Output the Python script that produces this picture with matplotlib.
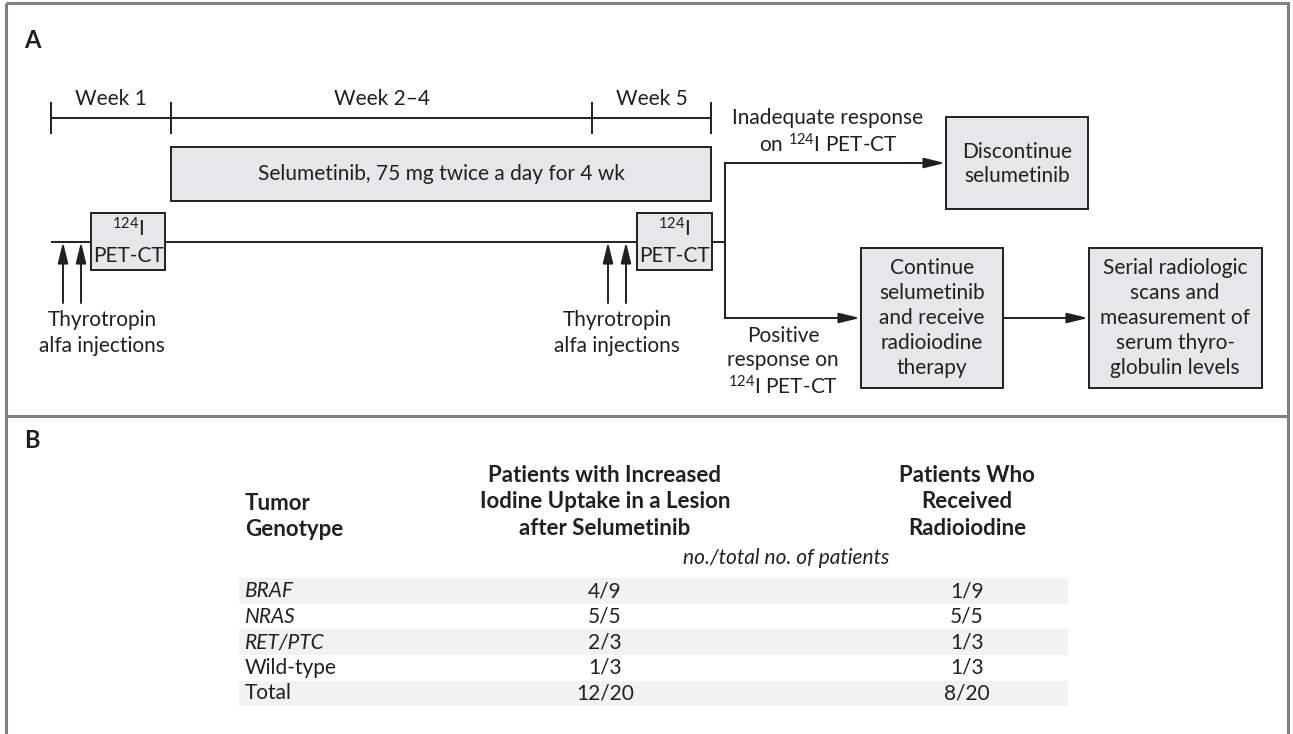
import matplotlib
matplotlib.use("Agg")
import matplotlib.pyplot as plt
from matplotlib.patches import Rectangle

plt.rcParams['font.family'] = ['Lato', 'DejaVu Sans']
plt.rcParams['mathtext.fontset'] = 'custom'
plt.rcParams['mathtext.rm'] = 'Lato'
plt.rcParams['mathtext.it'] = 'Lato:italic'

# Panel B table data
genotypes = ['BRAF', 'NRAS', 'RET/PTC', 'Wild-type', 'Total']
genotype_italic = [True, True, True, False, False]
uptake = ['4/9', '5/5', '2/3', '1/3', '12/20']
radioiodine = ['1/9', '5/5', '1/3', '1/3', '8/20']
col_headers = ['Patients with Increased\nIodine Uptake in a Lesion\nafter Selumetinib',
               'Patients Who\nReceived\nRadioiodine']

# Panel A timeline labels
week_labels = ['Week 1', 'Week 2\u20134', 'Week 5']

INK = '#231f20'
BOX = '#e6e7e8'
BAND = '#f1f2f2'
FS = 15
LW = 1.4

fig = plt.figure(figsize=(12.93, 7.34), dpi=100)
ax = fig.add_axes([0, 0, 1, 1])
ax.set_xlim(0, 1293)
ax.set_ylim(734, 0)
ax.axis('off')


def box(x0, y0, x1, y1):
    ax.add_patch(Rectangle((x0, y0), x1 - x0, y1 - y0, facecolor=BOX,
                           edgecolor=INK, lw=LW, zorder=3))


def arrow(x0, y0, x1, y1):
    ax.annotate('', xy=(x1, y1), xytext=(x0, y0),
                arrowprops=dict(arrowstyle='-|>,head_length=0.9,head_width=0.22',
                                mutation_scale=14, lw=LW, color=INK,
                                shrinkA=0, shrinkB=0), zorder=4)


def txt(x, y, s, ls=1.3, **kw):
    kw.setdefault('fontsize', FS)
    kw.setdefault('ha', 'center')
    ax.text(x, y, s, va='center', color=INK, linespacing=ls, zorder=5, **kw)


# outer frame and divider
ax.add_patch(Rectangle((6, 3), 1282, 760, facecolor='none', edgecolor='#808080',
                       lw=2.2, clip_on=False, zorder=1))
ax.plot([6, 1288], [416, 416], color='#808080', lw=2.2, zorder=1)

txt(24, 40, 'A', ha='left', fontweight='bold', fontsize=17)
txt(24, 441, 'B', ha='left', fontweight='bold', fontsize=17)

# ---- Panel A ----
ticks = [51, 171, 592, 711]
ax.plot([ticks[0], ticks[-1]], [118, 118], color=INK, lw=LW)
for t in ticks:
    ax.plot([t, t], [103, 133], color=INK, lw=LW)
for i, lab in enumerate(week_labels):
    txt((ticks[i] + ticks[i + 1]) / 2, 99, lab)

box(171, 147, 711, 201)
txt(441, 174, 'Selumetinib, 75 mg twice a day for 4 wk')

# baseline
ax.plot([52, 725], [242, 242], color=INK, lw=LW, zorder=2)
for x0, x1 in [(91, 165), (637, 712)]:
    box(x0, 213, x1, 270)
    txt((x0 + x1) / 2, 229, '$^{124}$I')
    txt((x0 + x1) / 2, 256, 'PET-CT')

for xs, cx in [((63, 81), 102), ((608, 626), 617)]:
    for x in xs:
        arrow(x, 303, x, 242)
    txt(cx, 333, 'Thyrotropin\nalfa injections', ls=1.36)

# branch
ax.plot([725, 725], [163, 318], color=INK, lw=LW, zorder=2)
arrow(725, 163, 945, 163)
arrow(725, 318, 860, 318)
txt(828, 132, 'Inadequate response\non $^{124}$I PET-CT', ls=1.28)
txt(783, 362, 'Positive\nresponse on\n$^{124}$I PET-CT', ls=1.26)

box(946, 117, 1088, 209)
txt(1017, 164, 'Discontinue\nselumetinib')
box(861, 248, 1003, 388)
txt(932, 318, 'Continue\nselumetinib\nand receive\nradioiodine\ntherapy')
arrow(1003, 318, 1088, 318)
box(1089, 248, 1262, 388)
txt(1175, 318, 'Serial radiologic\nscans and\nmeasurement of\nserum thyro-\nglobulin levels')

# ---- Panel B ----
row0, step = 591, 25.6
band_x0, band_x1 = 239, 1068
col_x = [605, 967]
for i in range(len(genotypes)):
    y = row0 + i * step
    if i % 2 == 0:
        ax.add_patch(Rectangle((band_x0, y - step / 2), band_x1 - band_x0, step,
                               facecolor=BAND, edgecolor='none', zorder=1))
    txt(245, y, genotypes[i], ha='left',
        fontstyle='italic' if genotype_italic[i] else 'normal')
    txt(col_x[0], y, uptake[i])
    txt(col_x[1], y, radioiodine[i])

txt(245, 516.5, 'Tumor\nGenotype', ha='left', fontweight='bold', fontsize=16, ls=1.32)
for cx, h in zip(col_x, col_headers):
    txt(cx, 502, h, fontweight='bold', fontsize=16, ls=1.32)
txt(786, 558, 'no./total no. of patients', fontstyle='italic')

fig.savefig('out.png', dpi=100)
